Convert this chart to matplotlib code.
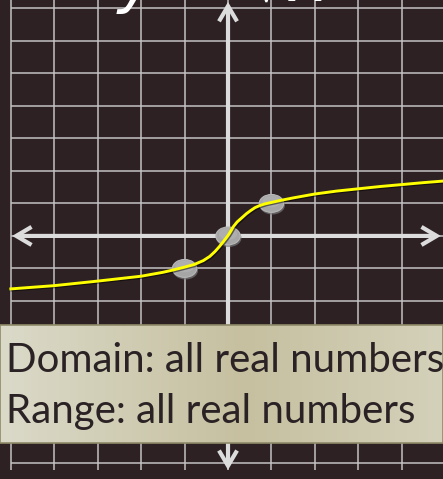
import numpy as np
import matplotlib
matplotlib.use("Agg")
import matplotlib.pyplot as plt
from matplotlib.patches import Ellipse, FancyArrowPatch, Rectangle
import matplotlib.patheffects as pe

# ---- data ----
grid_x = list(range(-5, 6))          # vertical grid lines
grid_y = list(range(-7, 8))          # horizontal grid lines
point_x = [-1, 0, 1]                 # highlighted points on y = cbrt(x)
point_y = [-1, 0, 1]
# curve
curve_x = [-5.0, -4.0, -3.0, -2.0, -1.5, -1.27, -1.0, -0.78, -0.57, -0.42, -0.30,
           -0.20, -0.11, -0.04, 0.02, 0.07, 0.12, 0.21, 0.32, 0.42, 0.51, 0.62,
           0.74, 0.86, 1.0, 1.2, 1.5, 2.0, 2.5, 3.0, 3.5, 4.0, 4.5, 4.97]
curve_y = [-1.63, -1.53, -1.39, -1.24, -1.12, -1.05, -0.96, -0.88, -0.76, -0.63, -0.48,
           -0.33, -0.18, -0.06, 0.05, 0.16, 0.28, 0.43, 0.56, 0.68, 0.77, 0.87,
           0.94, 0.99, 1.03, 1.09, 1.17, 1.29, 1.38, 1.45, 1.52, 1.58, 1.64, 1.69]
title_text = "y = \u221bx"
info_lines = ["Domain: all real numbers", "Range: all real numbers"]

BG = "#2d2124"
GRID = "#c4c2c2"
AXIS = "#dcdcdc"

fig = plt.figure(figsize=(4.43, 4.79), dpi=100)
fig.patch.set_facecolor(BG)
ax = fig.add_axes([0, 0, 1, 1])
ax.set_facecolor(BG)
ax.set_xlim(-5.25, 4.95)
ax.set_ylim(-7.48, 7.26)
ax.axis("off")

# grid
for gx in grid_x:
    ax.plot([gx, gx], [-7.2, 7.4], color=GRID, lw=1.1, zorder=1, solid_capstyle="butt")
for gy in grid_y:
    ax.plot([-5, 5.2], [gy, gy], color=GRID, lw=1.1, zorder=1, solid_capstyle="butt")

# axes with arrows
for (p0, p1) in [((-4.97, 0), (4.9, 0)), ((0, -7.2), (0, 7.2))]:
    arr = FancyArrowPatch(p0, p1, arrowstyle="<->,head_length=11,head_width=6.5",
                          mutation_scale=1, color=AXIS, lw=3.0, zorder=2,
                          shrinkA=0, shrinkB=0, joinstyle="miter", capstyle="butt")
    ax.add_patch(arr)

# points
for px, py in zip(point_x, point_y):
    ax.add_patch(Ellipse((px + 0.02, py - 0.06), 0.58, 0.56, facecolor="#7a7a7a",
                         edgecolor="none", zorder=3, alpha=0.7))
    ax.add_patch(Ellipse((px, py), 0.56, 0.55, facecolor="#a6a6a6",
                         edgecolor="#b8b8b8", lw=0.8, zorder=3))
    ax.add_patch(Ellipse((px, py + 0.06), 0.42, 0.36, facecolor="#b4b4b4",
                         edgecolor="none", zorder=3, alpha=0.6))

# curve
ax.plot(curve_x, curve_y, color="#ffff00", lw=2.1, zorder=4, solid_joinstyle="round",
        path_effects=[pe.SimpleLineShadow(offset=(0.8, -0.8), shadow_color="black", alpha=0.5),
                      pe.Normal()])

# info box with gradient
box_top = 1 - 325 / 479
box_bot = 1 - 443 / 479
grad = np.linspace(0, 1, 256)
c_left = np.array([0xdb, 0xda, 0xc9]) / 255
c_mid = np.array([0xc6, 0xc0, 0xa0]) / 255
c_right = np.array([0xd4, 0xd1, 0xba]) / 255
cols = np.where(grad[:, None] < 0.55,
                c_left + (c_mid - c_left) * (grad[:, None] / 0.55),
                c_mid + (c_right - c_mid) * ((grad[:, None] - 0.55) / 0.45))
img = np.tile(cols[None, :, :], (8, 1, 1))
box_ax = fig.add_axes([0, box_bot, 1, box_top - box_bot])
box_ax.imshow(img, aspect="auto", extent=[0, 1, 0, 1])
box_ax.set_xlim(0, 1)
box_ax.set_ylim(0, 1)
box_ax.axis("off")
box_ax.add_patch(Rectangle((0, 0), 1, 1, transform=box_ax.transAxes, fill=False,
                           edgecolor="#8f8a68", lw=1.2, clip_on=False))

fig.text(6 / 443, 1 - 372 / 479, info_lines[0], fontsize=29, family="Lato",
         color="#2a2224", va="baseline", ha="left")
fig.text(6 / 443, 1 - 423 / 479, info_lines[1], fontsize=29, family="Lato",
         color="#2a2224", va="baseline", ha="left")

# title (mostly cut off at top)
fig.text(118 / 443, 1 - 1 / 479, title_text, fontsize=46, color="white",
         style="italic", va="baseline", ha="left", family="DejaVu Sans")

fig.savefig("out.png", dpi=100, facecolor=BG)
